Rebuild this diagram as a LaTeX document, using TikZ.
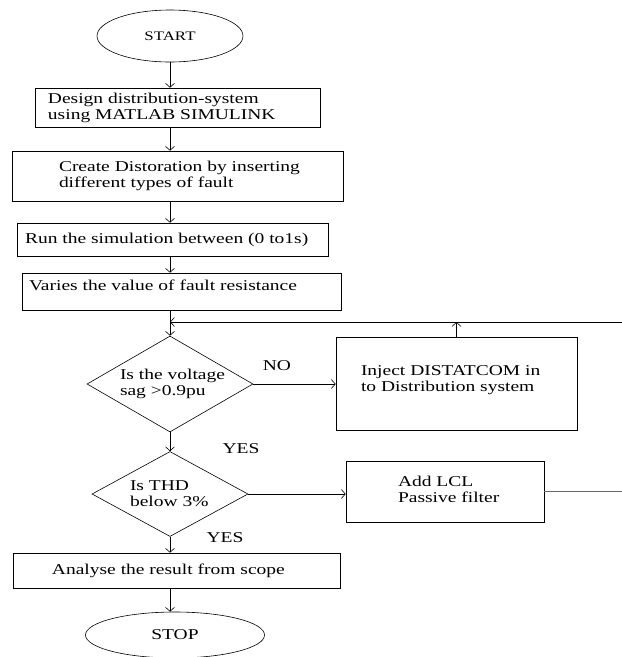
\documentclass[tikz,border=0pt]{standalone}
\usepackage{fontspec}
\setmainfont{Liberation Serif}[FakeStretch=1.3]
\usetikzlibrary{shapes.geometric,arrows.meta}

\begin{document}
\begin{tikzpicture}
[
x=1pt,y=-1pt,
font=\fontsize{15}{16}\selectfont,
line width=0.6pt,
>={Straight Barb[length=4pt,width=9pt]},
blk/.style 2 args={draw,rectangle,inner sep=0pt,label={[anchor=west,align=left,inner sep=0pt,xshift=#1]west:{#2}}},
dec/.style 2 args={draw,diamond,inner sep=0pt,label={[anchor=west,align=left,inner sep=0pt,xshift=#1]west:{#2}}},
term/.style={draw,ellipse,inner sep=0pt},
]
\useasboundingbox (0,0) rectangle (622,657);

%Place the nodes
\node[term,minimum width=146pt,minimum height=52pt,font=\fontsize{13}{14}\selectfont] (start) at (170,36) {START};
\node[blk={13pt}{Design distribution-system\\using MATLAB SIMULINK},minimum width=285pt,minimum height=39pt] (design) at (177.5,107.5) {};
\node[blk={47pt}{Create Distoration by inserting\\different types of fault},minimum width=331pt,minimum height=50pt] (distort) at (177.5,176) {};
\node[blk={8pt}{Run the simulation between (0 to1s)},minimum width=311pt,minimum height=33pt] (run) at (172.5,239.5) {};
\node[blk={7pt,yshift=6pt}{Varies the value of fault resistance},minimum width=319pt,minimum height=37pt] (vary) at (181.5,291.5) {};
\node[dec={33pt}{Is the voltage\\sag >0.9pu},minimum width=166pt,minimum height=96pt] (sag) at (170,384) {};
\node[blk={25pt,yshift=3pt}{Inject DISTATCOM in\\to Distribution system},minimum width=241pt,minimum height=93pt] (inject) at (456.5,383.5) {};
\node[dec={38pt}{Is THD\\below 3\%},minimum width=156pt,minimum height=85pt] (thd) at (170,494) {};
\node[blk={52pt,yshift=2.5pt}{Add LCL\\Passive filter},minimum width=198pt,minimum height=61pt] (lcl) at (445,491.5) {};
\node[blk={39pt}{Analyse the result from scope},minimum width=327pt,minimum height=35pt] (analyse) at (176.5,570.5) {};
\node[term,minimum width=179pt,minimum height=46pt] (stop) at (175,635) {STOP};
\node (no) at (277,366) {NO};
\node (yes1) at (241,449) {YES};
\node (yes2) at (225,538) {YES};
\coordinate (back) at (622,322);
\coordinate (lclout) at (622,488);

%Draw the connections
\draw[->] (start) -- (design.north -| start);
\draw[->] (design.south -| start) -- (distort.north -| start);
\draw[->] (distort.south -| start) -- (run.north -| start);
\draw[->] (run.south -| start) -- (vary.north -| start);
\draw[->] (vary.south -| sag) -- (sag.north);
\draw[->] (back) -- (back -| sag);
\draw[->] (sag.east) -- (sag.east -| inject.west);
\draw[->] (inject.north) -- (inject.north |- back);
\draw[->] (sag.south) -- (thd.north);
\draw[->] (thd.east) -- (thd.east -| lcl.west);
\draw[black!60] (lcl.east) -- (lcl.east -| lclout);
\draw[->] (thd.south) -- (analyse.north -| thd);
\draw[->] (analyse.south -| thd) -- (stop.north -| thd);
\end{tikzpicture}
\end{document}
